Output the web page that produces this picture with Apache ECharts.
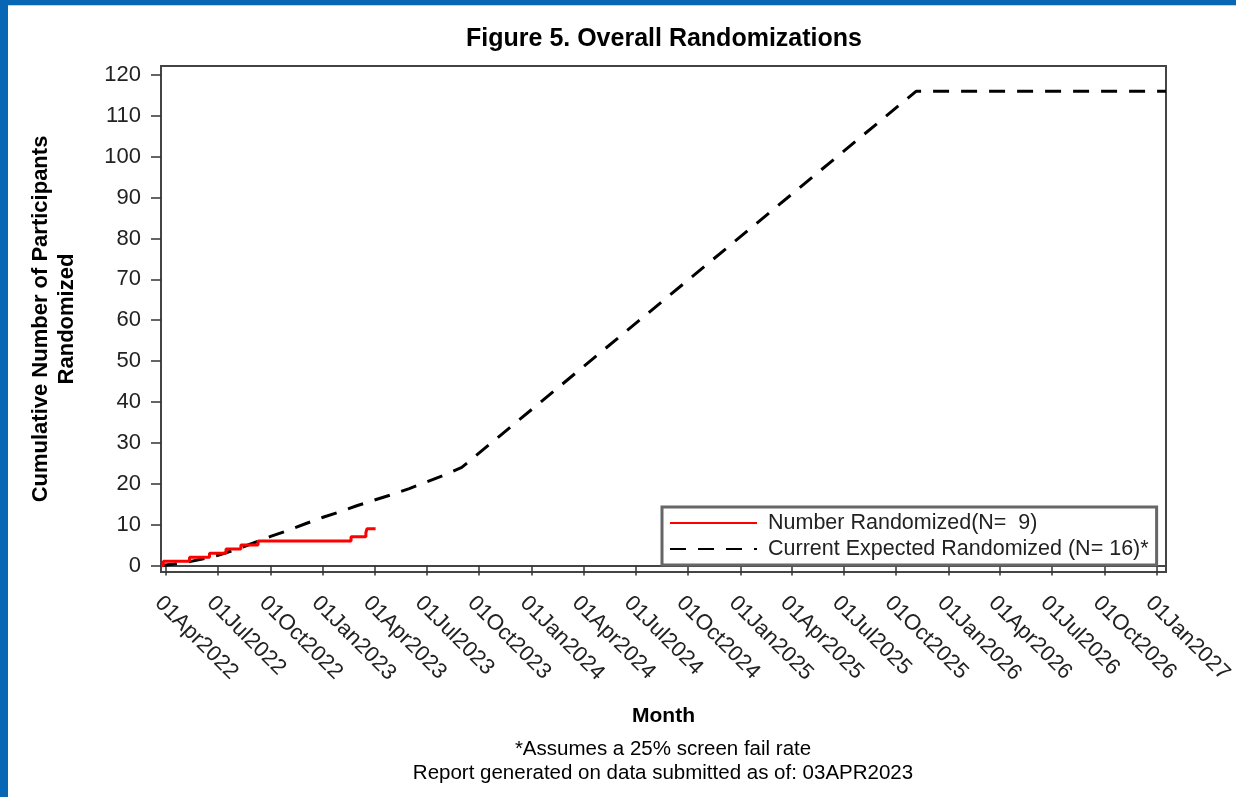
<!DOCTYPE html>
<html>
<head>
<meta charset="utf-8">
<title>Figure 5. Overall Randomizations</title>
<script src="https://cdn.jsdelivr.net/npm/echarts@6/dist/echarts.min.js"></script>
<style>
  html, body { margin: 0; padding: 0; background: #fff; }
  #main { width: 1236px; height: 797px; }
</style>
</head>
<body>
<div id="main"></div>
<script>
// 实际入组（阶梯线）
var randDates = ['2022-03-23', '2022-03-27', '2022-05-12', '2022-06-16', '2022-07-15', '2022-08-10',
                 '2022-09-09', '2023-02-19', '2023-03-17', '2023-03-19', '2023-04-03'];
var randCounts = [0, 1, 2, 3, 4, 5, 6, 7, 8, 9, 9];

// 预期入组（虚线）
var expDates = ['2022-03-23', '2022-05-01', '2022-06-01', '2022-07-01', '2022-08-01', '2022-09-01',
                '2022-10-01', '2022-11-01', '2022-12-01', '2023-01-01', '2023-02-01', '2023-03-01',
                '2023-04-01', '2023-05-01', '2023-06-01', '2023-07-01', '2023-08-01', '2023-09-01',
                '2025-11-05', '2027-01-17'];
var expCounts = [0, 0.6, 1.5, 2.5, 3.9, 5.5, 7.1, 8.6, 10.2, 11.8, 13.2, 14.6,
                 16.0, 17.3, 18.8, 20.4, 22.1, 24.0, 116, 116];

// 坐标轴刻度
var xTickDates = ['2022-04-01', '2022-07-01', '2022-10-01', '2023-01-01', '2023-04-01',
                  '2023-07-01', '2023-10-01', '2024-01-01', '2024-04-01', '2024-07-01',
                  '2024-10-01', '2025-01-01', '2025-04-01', '2025-07-01', '2025-10-01',
                  '2026-01-01', '2026-04-01', '2026-07-01', '2026-10-01', '2027-01-01'];
var yTicks = [0, 10, 20, 30, 40, 50, 60, 70, 80, 90, 100, 110, 120];

var seriesNames = ['Number Randomized(N=  9)', 'Current Expected Randomized (N= 16)*'];

var FONT = 'Liberation Sans, Arial, Helvetica, sans-serif';
var MON = ['Jan','Feb','Mar','Apr','May','Jun','Jul','Aug','Sep','Oct','Nov','Dec'];

function toPairs(dates, vals) {
    var out = [];
    for (var i = 0; i < dates.length; i++) {
        out.push([Date.parse(dates[i]), vals[i]]);
    }
    return out;
}
function fmtDate(v) {
    var d = new Date(v);
    var dd = ('0' + d.getUTCDate()).slice(-2);
    return dd + MON[d.getUTCMonth()] + d.getUTCFullYear();
}

var xTicks = xTickDates.map(function (s) { return Date.parse(s); });

var chart = echarts.init(document.getElementById('main'));

var option = {
    animation: false,
    backgroundColor: '#fff',
    title: {
        text: 'Figure 5. Overall Randomizations',
        left: 659,
        top: 22,
        textAlign: 'center',
        textStyle: { fontFamily: FONT, fontSize: 25, fontWeight: 'bold', color: '#000' }
    },
    graphic: [
        { type: 'rect', shape: { x: 0, y: 0, width: 1236, height: 5 }, style: { fill: '#0867b5' } },
        { type: 'rect', shape: { x: 0, y: 0, width: 8, height: 797 }, style: { fill: '#0867b5' } },
        { type: 'rect', shape: { x: 8, y: 5, width: 1228, height: 1 }, style: { fill: '#d0d0d0' } },
        {
            type: 'text', x: 663, y: 749,
            style: { text: '*Assumes a 25% screen fail rate', font: '20.5px ' + FONT, fill: '#000',
                     align: 'center', verticalAlign: 'middle' }
        },
        {
            type: 'text', x: 663, y: 773,
            style: { text: 'Report generated on data submitted as of: 03APR2023', font: '20.5px ' + FONT, fill: '#000',
                     align: 'center', verticalAlign: 'middle' }
        }
    ],
    legend: {
        orient: 'vertical',
        left: 662,
        top: 507,
        borderColor: '#666',
        borderWidth: 3,
        padding: [5, 8, 5, 7],
        itemWidth: 87,
        itemHeight: 18,
        itemGap: 4,
        itemStyle: { opacity: 0 },
        textStyle: { fontFamily: FONT, fontSize: 21.5, color: '#222', padding: [0, 0, 0, 6] },
        data: seriesNames
    },
    grid: {
        left: 161,
        right: 70,
        top: 66,
        bottom: 225,
        outerBoundsMode: 'none',
        show: true,
        borderColor: '#444',
        borderWidth: 2
    },
    xAxis: {
        type: 'value',
        min: Date.parse('2022-03-23'),
        max: Date.parse('2027-01-17'),
        name: 'Month',
        nameLocation: 'middle',
        nameGap: 134,
        nameMoveOverlap: false,
        nameTextStyle: { fontFamily: FONT, fontSize: 21, fontWeight: 'bold', color: '#000' },
        axisLine: { show: true, lineStyle: { color: '#444', width: 2 } },
        axisTick: {
            show: true, length: 10, customValues: xTicks,
            lineStyle: { color: '#333', width: 1.5 }
        },
        axisLabel: {
            customValues: xTicks,
            rotate: -45,
            margin: 20,
            verticalAlign: 'top',
            fontFamily: FONT,
            fontSize: 22,
            color: '#222',
            formatter: fmtDate
        },
        splitLine: { show: false }
    },
    yAxis: {
        type: 'value',
        min: -1.6,
        max: 122.2,
        name: 'Cumulative Number of Participants\nRandomized',
        nameLocation: 'middle',
        nameRotate: 90,
        nameGap: 81,
        nameMoveOverlap: false,
        nameTextStyle: { fontFamily: FONT, fontSize: 22, fontWeight: 'bold', color: '#000', lineHeight: 26 },
        axisLine: { show: true, lineStyle: { color: '#444', width: 2 } },
        axisTick: {
            show: true, length: 10, customValues: yTicks,
            lineStyle: { color: '#333', width: 1.5 }
        },
        axisLabel: {
            customValues: yTicks,
            margin: 20,
            fontFamily: FONT,
            fontSize: 22,
            color: '#222'
        },
        splitLine: { show: false }
    },
    series: [{
        name: seriesNames[0],
        type: 'line',
        step: 'end',
        symbol: 'none',
        data: toPairs(randDates, randCounts),
        lineStyle: { color: '#ff0000', width: 3 },
        itemStyle: { color: '#ff0000' },
        z: 3
    }, {
        name: seriesNames[1],
        type: 'line',
        symbol: 'none',
        data: toPairs(expDates, expCounts),
        lineStyle: { color: '#000', width: 3, type: [16, 12] },
        itemStyle: { color: '#000' },
        z: 2
    }]
};

chart.setOption(option);
</script>
</body>
</html>
